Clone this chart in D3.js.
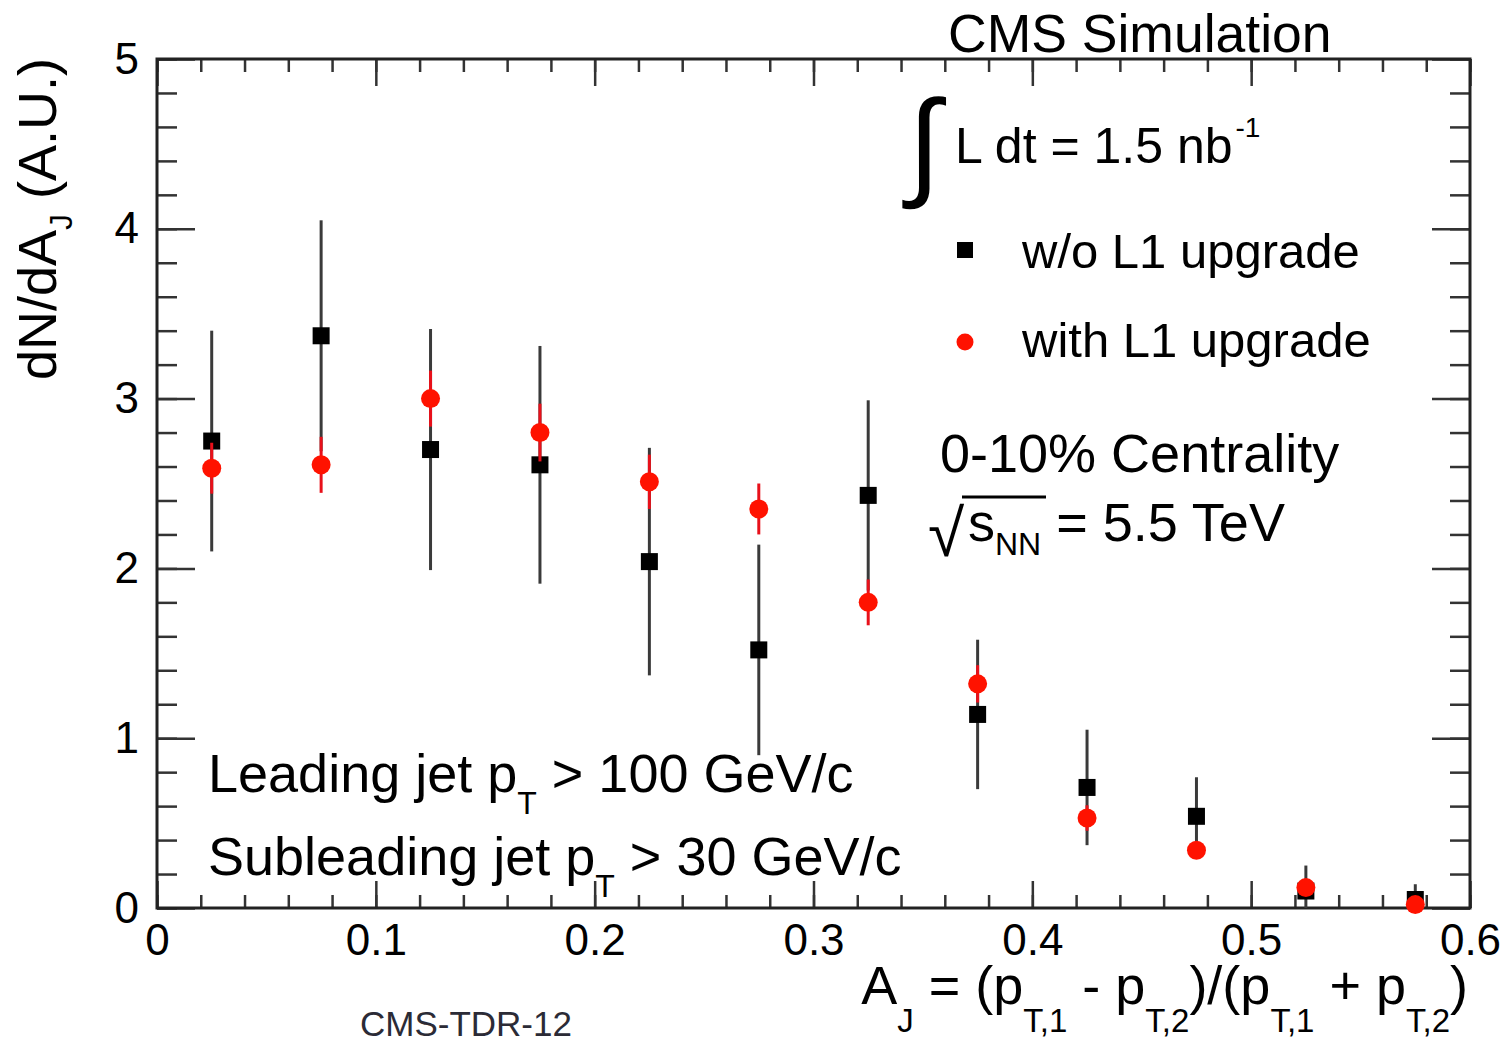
<!DOCTYPE html>
<html>
<head>
<meta charset="utf-8">
<script src="https://cdn.jsdelivr.net/npm/d3@7"></script>
<style>
  html, body { margin: 0; padding: 0; background: #fff; }
  svg text { font-family: "Liberation Sans", Arial, Helvetica, sans-serif; fill: #000; }
</style>
</head>
<body>
<svg id="chart" width="1504" height="1045"></svg>
<script>
// ---- data ----
const binCenters = [0.025, 0.075, 0.125, 0.175, 0.225, 0.275, 0.325, 0.375, 0.425, 0.475, 0.525, 0.575];
const woL1Values = [2.75, 3.37, 2.70, 2.61, 2.04, 1.52, 2.43, 1.14, 0.71, 0.54, 0.10, 0.05];
const woL1Errors = [0.65, 0.68, 0.71, 0.70, 0.67, 0.62, 0.56, 0.44, 0.34, 0.23, 0.15, 0.09];
const withL1Values = [2.59, 2.61, 3.00, 2.80, 2.51, 2.35, 1.80, 1.32, 0.53, 0.34, 0.12, 0.02];
const withL1Errors = [0.15, 0.165, 0.165, 0.17, 0.16, 0.15, 0.135, 0.11, 0.075, 0.04, 0.03, 0.01];
const xMajorTicks = [0, 0.1, 0.2, 0.3, 0.4, 0.5, 0.6];
const xMinorTicks = d3.range(0, 0.6001, 0.02);
const yMajorTicks = [0, 1, 2, 3, 4, 5];
const yMinorTicks = d3.range(0, 5.001, 0.2);

// ---- layout ----
const L = 157, R = 1470, T = 59, B = 908;
const svg = d3.select("#chart");
const x = d3.scaleLinear().domain([0, 0.6]).range([L, R]);
const y = d3.scaleLinear().domain([0, 5]).range([B, T]);
const axisColor = "#333";

function styleAxis(g) {
  g.select(".domain").remove();
  g.selectAll(".tick line").attr("stroke", axisColor).attr("stroke-width", 2.5);
  g.selectAll(".tick text").attr("font-family", "Liberation Sans, Arial, sans-serif")
    .attr("font-size", 44).attr("fill", "#000");
}

// y axes
svg.append("g").attr("transform", `translate(${L},0)`)
  .call(d3.axisLeft(y).tickValues(yMinorTicks).tickSize(-20).tickFormat(""))
  .call(styleAxis);
svg.append("g").attr("transform", `translate(${L},0)`)
  .call(d3.axisLeft(y).tickValues(yMajorTicks).tickSize(-38).tickPadding(18).tickFormat(d3.format("d")))
  .call(styleAxis);
svg.append("g").attr("transform", `translate(${R},0)`)
  .call(d3.axisRight(y).tickValues(yMinorTicks).tickSize(-20).tickFormat(""))
  .call(styleAxis);
svg.append("g").attr("transform", `translate(${R},0)`)
  .call(d3.axisRight(y).tickValues(yMajorTicks).tickSize(-38).tickFormat(""))
  .call(styleAxis);

// x axes
svg.append("g").attr("transform", `translate(0,${B})`)
  .call(d3.axisBottom(x).tickValues(xMinorTicks).tickSize(-13).tickFormat(""))
  .call(styleAxis);
svg.append("g").attr("transform", `translate(0,${B})`)
  .call(d3.axisBottom(x).tickValues(xMajorTicks).tickSize(-27).tickPadding(16).tickFormat(d => d === 0 ? "0" : d3.format(".1f")(d)))
  .call(styleAxis);
svg.append("g").attr("transform", `translate(0,${T})`)
  .call(d3.axisTop(x).tickValues(xMinorTicks).tickSize(-13).tickFormat(""))
  .call(styleAxis);
svg.append("g").attr("transform", `translate(0,${T})`)
  .call(d3.axisTop(x).tickValues(xMajorTicks).tickSize(-27).tickFormat(""))
  .call(styleAxis);

// frame
svg.append("rect").attr("x", L).attr("y", T).attr("width", R - L).attr("height", B - T)
  .attr("fill", "none").attr("stroke", "#222").attr("stroke-width", 3);

// ---- series ----
const black = binCenters.map((c, i) => ({ c, v: woL1Values[i], e: woL1Errors[i] }));
const red = binCenters.map((c, i) => ({ c, v: withL1Values[i], e: withL1Errors[i] }));

const gB = svg.append("g");
gB.selectAll("line").data(black).join("line")
  .attr("x1", d => x(d.c)).attr("x2", d => x(d.c))
  .attr("y1", d => y(Math.min(5, d.v + d.e))).attr("y2", d => y(Math.max(0, d.v - d.e)))
  .attr("stroke", "#3a3a3a").attr("stroke-width", 3);
const sq = 17;
gB.selectAll("rect").data(black).join("rect")
  .attr("x", d => x(d.c) - sq / 2).attr("y", d => y(d.v) - sq / 2)
  .attr("width", sq).attr("height", sq).attr("fill", "#000");

const gR = svg.append("g");
gR.selectAll("line").data(red).join("line")
  .attr("x1", d => x(d.c)).attr("x2", d => x(d.c))
  .attr("y1", d => y(d.v + d.e)).attr("y2", d => y(Math.max(0, d.v - d.e)))
  .attr("stroke", "#e8101a").attr("stroke-width", 3);
gR.selectAll("circle").data(red).join("circle")
  .attr("cx", d => x(d.c)).attr("cy", d => y(d.v)).attr("r", 9.5)
  .attr("fill", "#ff1200");

// ---- texts ----
svg.append("text").attr("x", 948).attr("y", 52).attr("font-size", 53.5).text("CMS Simulation");

// integral
svg.append("text").attr("x", 908).attr("y", 183).attr("font-size", 118)
  .attr("font-family", "DejaVu Serif, serif").attr("font-style", "italic").text("∫");
const lum = svg.append("text").attr("x", 955).attr("y", 163).attr("font-size", 50);
lum.append("tspan").text("L dt = 1.5 nb");
lum.append("tspan").attr("font-size", 28).attr("dy", -26).attr("dx", 3).text("-1");

// legend
svg.append("rect").attr("x", 957).attr("y", 242).attr("width", 16).attr("height", 16).attr("fill", "#000");
svg.append("text").attr("x", 1022).attr("y", 268).attr("font-size", 49).text("w/o L1 upgrade");
svg.append("circle").attr("cx", 965).attr("cy", 342).attr("r", 8.5).attr("fill", "#ff1200");
svg.append("text").attr("x", 1022).attr("y", 357).attr("font-size", 49).text("with L1 upgrade");

svg.append("text").attr("x", 940).attr("y", 472).attr("font-size", 54).text("0-10% Centrality");

// sqrt(s_NN)
svg.append("text").attr("x", 928).attr("y", 556).attr("font-size", 66)
  .attr("font-family", "DejaVu Sans, sans-serif").text("√");
svg.append("line").attr("x1", 962).attr("x2", 1046).attr("y1", 497).attr("y2", 497)
  .attr("stroke", "#000").attr("stroke-width", 3);
const sNN = svg.append("text").attr("x", 968).attr("y", 541).attr("font-size", 54);
sNN.append("tspan").text("s");
sNN.append("tspan").attr("font-size", 32).attr("dy", 14).text("NN");
sNN.append("tspan").attr("dy", -14).text(" = 5.5 TeV");

// leading/subleading
const lead = svg.append("text").attr("x", 208).attr("y", 792).attr("font-size", 54);
lead.append("tspan").text("Leading jet p");
lead.append("tspan").attr("font-size", 32).attr("dy", 22).text("T");
lead.append("tspan").attr("dy", -22).text(" > 100 GeV/c");
const sub = svg.append("text").attr("x", 208).attr("y", 875).attr("font-size", 54);
sub.append("tspan").text("Subleading jet p");
sub.append("tspan").attr("font-size", 32).attr("dy", 22).text("T");
sub.append("tspan").attr("dy", -22).text(" > 30 GeV/c");

// x label
const xl = svg.append("text").attr("x", 1468).attr("y", 1004).attr("font-size", 54).attr("text-anchor", "end");
const parts = [["A", 0], ["J", 1], [" = (p", 0], ["T,1", 1], [" - p", 0], ["T,2", 1], [")/(p", 0], ["T,1", 1], [" + p", 0], ["T,2", 1], [")", 0]];
let cur = 0;
parts.forEach(([t, s]) => {
  const ts = xl.append("tspan").text(t);
  const target = s ? 28 : 0;
  ts.attr("dy", target - cur);
  if (s) ts.attr("font-size", 33);
  cur = target;
});

// y label
const yl = svg.append("text").attr("transform", "translate(56,380) rotate(-90)").attr("font-size", 54);
yl.append("tspan").text("dN/dA");
yl.append("tspan").attr("font-size", 32).attr("dy", 16).text("J");
yl.append("tspan").attr("dy", -16).text(" (A.U.)");

// footer
svg.append("text").attr("x", 360).attr("y", 1036).attr("font-size", 35)
  .style("fill", "#2b2b36").text("CMS-TDR-12");
</script>
</body>
</html>
